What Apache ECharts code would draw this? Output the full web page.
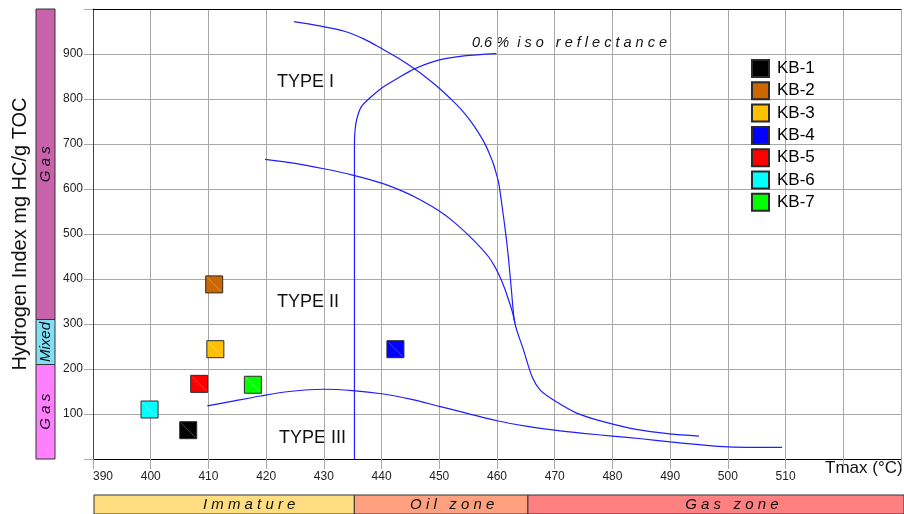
<!DOCTYPE html>
<html>
<head>
<meta charset="utf-8">
<script src="https://cdn.jsdelivr.net/npm/echarts@6/dist/echarts.min.js"></script>
<style>html,body{margin:0;padding:0;background:#fff}#c{width:904px;height:514px}</style>
</head>
<body>
<div id="c"></div>
<script>
// ---- data ----
const sampleNames = ['KB-1','KB-2','KB-3','KB-4','KB-5','KB-6','KB-7'];
const sampleTmax  = [406.5, 411.0, 411.2, 442.4, 408.4, 399.8, 417.7];
const sampleHI    = [64, 388, 244, 244, 167, 110, 165];
const sampleColors = ['#000000','#CC6600','#FFC000','#0000FF','#FF0000','#00FFFF','#00FF00'];

const typeI = [[424.8,972],[429,963],[433.7,950],[437,933],[440,912],[443,890],[445.7,867],[448,845],[450,824],[452,800],[453.7,778],[455.3,753],[456.7,727],[457.8,703],[458.7,678],[459.4,655],[459.9,633],[460.3,613],[460.9,560],[461.5,502],[462.0,445],[462.5,375],[463.1,302],[464.6,242],[466.1,182],[467.5,153],[469.8,131],[473.8,102],[478.4,83],[484.1,66],[489.9,56],[495.0,51]];
const typeII = [[419.8,666],[425,657],[430,645],[435,631],[440,613],[444,593],[447,574],[450,551],[452.5,527],[455,498],[457,472],[458.5,450],[459.6,428],[460.5,405],[461.3,380],[462.1,350],[462.7,325],[463.1,302]];
const typeIII = [[409.8,118],[414,128],[419,140],[424,150],[430,155],[435,152],[440,145],[445,133],[450,117],[455,101],[460,85],[465,73],[470,64],[475,57],[480,51],[485,45],[490,38],[495,32],[500,27],[505,26],[509.4,26]];
const isoReflectance = [[435.3,0],[435.3,700],[435.4,730],[435.7,755],[436.5,783],[438.2,805],[440,824],[442.8,846],[445.7,867],[450,887],[454.3,896],[459.9,901]];

const hiBands = [[0,210,'G a s'],[210,310,'Mixed'],[310,1000,'G a s']];
const hiBandColors = ['#FF80FF','#80DFF5','#C862AA'];
const maturityBands = [[390,435,'I m m a t u r e'],[435,465,'O i l   z o n e'],[465,530,'G a s   z o n e']];
const maturityColors = ['#FFDD80','#FFA07E','#FF8080'];

const xTicks = {min:390, max:530, interval:10};
const yTicks = {min:0, max:1000, interval:100};

// ---- chart ----
const FONT = '"Liberation Sans", Arial, sans-serif';
const chart = echarts.init(document.getElementById('c'), null, {renderer:'canvas'});

const gridLineColor = '#a8a8a8';

function leftBandItem(params, api){
  const p0 = api.coord([0, api.value(0)]);
  const p1 = api.coord([1, api.value(1)]);
  const x = p0[0], y = p1[1], w = p1[0]-p0[0], h = p0[1]-p1[1];
  return {type:'group', children:[
    {type:'rect', shape:{x:x,y:y,width:w,height:h}, style:{fill:api.visual('color'), stroke:'#333', lineWidth:1}},
    {type:'text', x:x+w/2, y:y+h/2, rotation:Math.PI/2,
      style:{x:0,y:0,text:hiBands[params.dataIndex][2], align:'center', verticalAlign:'middle',
        fill:'#111', font:'italic 15px '+FONT}}
  ]};
}
const bottomLabelShift = [25, 11, 16];
function bottomBandItem(params, api){
  const p0 = api.coord([api.value(0), 0]);
  const p1 = api.coord([api.value(1), 1]);
  const x = p0[0], y = p1[1], w = p1[0]-p0[0], h = p0[1]-p1[1];
  return {type:'group', children:[
    {type:'rect', shape:{x:x,y:y,width:w,height:h}, style:{fill:api.visual('color'), stroke:'#333', lineWidth:1}},
    {type:'text', x:x+w/2+bottomLabelShift[params.dataIndex], y:y+10,
      style:{x:0,y:0,text:maturityBands[params.dataIndex][2], align:'center', verticalAlign:'middle',
        fill:'#111', font:'italic 15px '+FONT}}
  ]};
}

const curveStyle = {color:'#1e1eff', width:1.2};
function curve(data){
  return {type:'line', xAxisIndex:0, yAxisIndex:0, data:data, showSymbol:false, symbol:'none',
    smooth:0.3, lineStyle:curveStyle, silent:true, z:3};
}

const series = [
  {type:'custom', xAxisIndex:2, yAxisIndex:1, renderItem:leftBandItem, silent:true,
   data: hiBands.map((b,i)=>({value:[b[0],b[1]], itemStyle:{color:hiBandColors[i]}}))},
  {type:'custom', xAxisIndex:3, yAxisIndex:2, renderItem:bottomBandItem, silent:true,
   data: maturityBands.map((b,i)=>({value:[b[0],b[1]], itemStyle:{color:maturityColors[i]}}))},
  curve(typeI), curve(typeII), curve(typeIII), curve(isoReflectance)
];
sampleNames.forEach((n,i)=>{
  series.push({type:'scatter', name:n, xAxisIndex:0, yAxisIndex:0, symbol:'rect', symbolSize:17,
    data:[[sampleTmax[i], sampleHI[i]]],
    itemStyle:{color:sampleColors[i], borderColor:'#2a2a2a', borderWidth:1, opacity:1}, z:5});
  // faint diagonal streak inside each marker
  series.push({type:'scatter', xAxisIndex:0, yAxisIndex:0, symbol:'path://M0,0L10,10', symbolSize:14,
    data:[[sampleTmax[i], sampleHI[i]]], silent:true,
    itemStyle:{color:'rgba(0,0,0,0)', borderColor: i===0 ? 'rgba(160,160,160,0.7)' : 'rgba(255,255,255,0.45)', borderWidth:0.8}, z:6});
});

const option = {
  animation:false,
  textStyle:{fontFamily:FONT},
  grid:[
    {left:93, top:9, right:-2, bottom:55},
    {left:36, top:9, width:19, bottom:55},
    {left:94, right:-2, top:495, height:20}
  ],
  xAxis:[
    {type:'value', gridIndex:0, min:xTicks.min, max:xTicks.max, interval:xTicks.interval,
     axisLine:{show:true, onZero:false, lineStyle:{color:'#000', width:1}},
     axisTick:{show:true, length:10, lineStyle:{color:gridLineColor}},
     axisLabel:{fontSize:12, color:'#222', margin:12, alignMinLabel:'left', formatter:v=> v<=510 ? String(v) : ''},
     splitLine:{show:true, lineStyle:{color:gridLineColor, width:1}}},
    {type:'value', gridIndex:0, position:'top', min:xTicks.min, max:xTicks.max,
     axisLine:{show:true, onZero:false, lineStyle:{color:'#000', width:1}},
     axisTick:{show:false}, axisLabel:{show:false}, splitLine:{show:false}},
    {type:'value', gridIndex:1, min:0, max:1, show:false},
    {type:'value', gridIndex:2, min:xTicks.min, max:xTicks.max, show:false}
  ],
  yAxis:[
    {type:'value', gridIndex:0, min:yTicks.min, max:yTicks.max, interval:yTicks.interval,
     name:'Hydrogen Index mg HC/g TOC', nameLocation:'middle', nameRotate:90, nameGap:63,
     nameTextStyle:{fontSize:20, color:'#111'},
     axisLine:{show:true, onZero:false, lineStyle:{color:'#444', width:1}},
     axisTick:{show:true, length:9, lineStyle:{color:gridLineColor}},
     axisLabel:{fontSize:12, color:'#222', margin:10, formatter:v=> (v>0 && v<1000) ? String(v) : ''},
     splitLine:{show:true, lineStyle:{color:gridLineColor, width:1}}},
    {type:'value', gridIndex:1, min:yTicks.min, max:yTicks.max, show:false},
    {type:'value', gridIndex:2, min:0, max:1, show:false}
  ],
  legend:{
    data:sampleNames, orient:'vertical', left:746, top:54,
    itemWidth:17, itemHeight:17, itemGap:3.3, icon:'rect',
    textStyle:{fontSize:17, color:'#000', padding:[0,0,0,3]}
  },
  graphic:[
    {type:'text', left:277, top:73, style:{text:'TYPE I', font:'18px '+FONT, fill:'#111'}, silent:true},
    {type:'text', left:277, top:293, style:{text:'TYPE II', font:'18px '+FONT, fill:'#111'}, silent:true},
    {type:'text', left:279, top:429, style:{text:'TYPE III', font:'18px '+FONT, fill:'#111'}, silent:true},
    {type:'text', left:472, top:35, style:{text:'0.6 %  i s o   r e f l e c t a n c e', font:'italic 14.5px '+FONT, fill:'#111'}, silent:true},
    {type:'text', left:825, top:460, style:{text:'Tmax (°C)', font:'17px '+FONT, fill:'#111'}, silent:true}
  ],
  series:series
};
chart.setOption(option);
</script>
</body>
</html>
